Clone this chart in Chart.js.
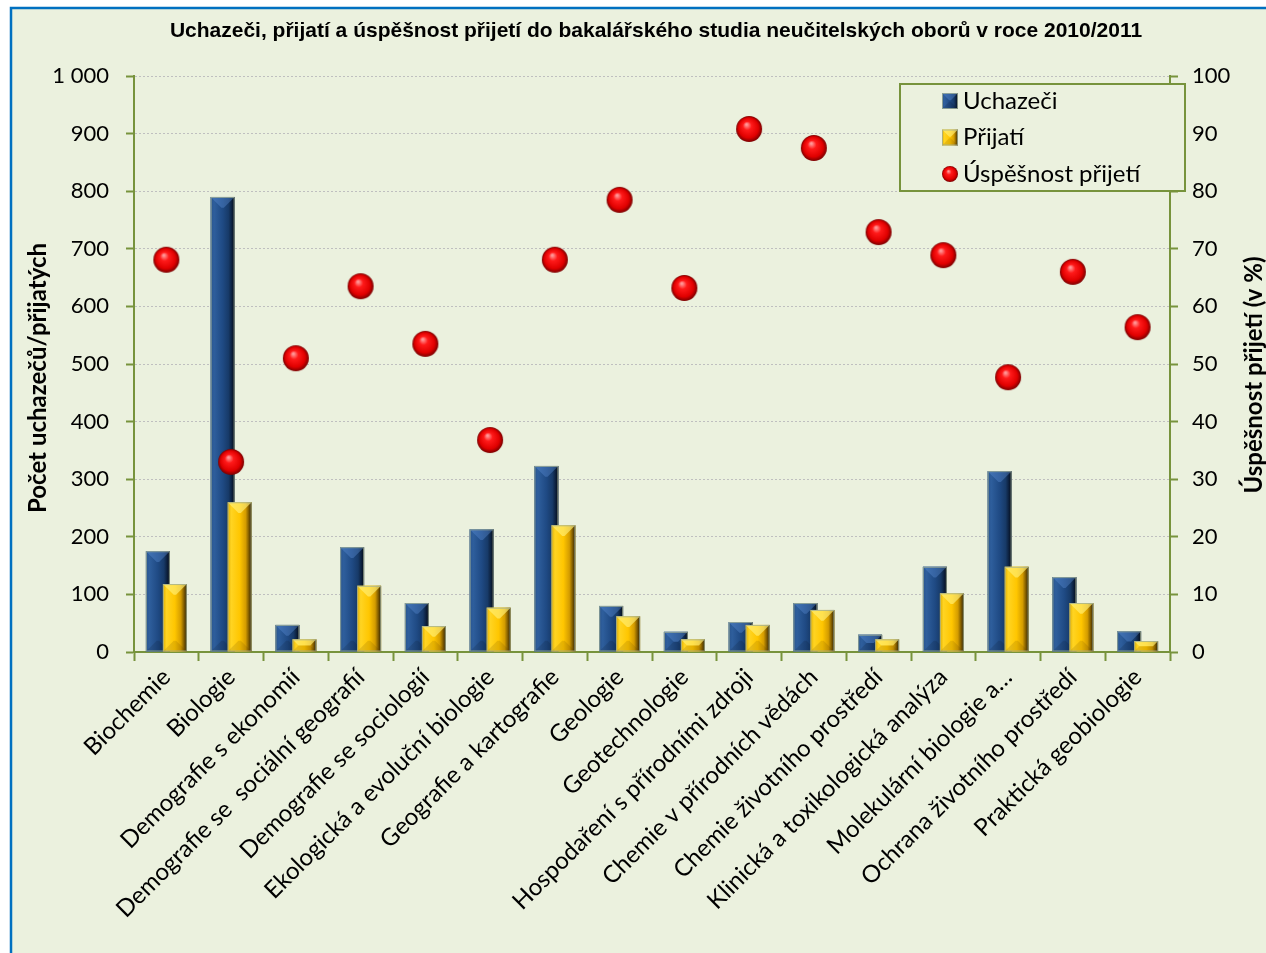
<!DOCTYPE html>
<html lang="cs">
<head>
<meta charset="utf-8">
<title>Uchazeči, přijatí a úspěšnost přijetí</title>
<script src="https://cdn.jsdelivr.net/npm/chart.js@4.4.1/dist/chart.umd.min.js"></script>
<style>
  html, body { margin: 0; padding: 0; background: #fff; overflow: hidden; }
  #wrap { position: relative; width: 1266px; height: 953px; }
</style>
</head>
<body>
<div id="wrap"><canvas id="chart"></canvas></div>
<script>
const categories = [
  'Biochemie', 'Biologie', 'Demografie s ekonomií', 'Demografie se  sociální geografií',
  'Demografie se sociologií', 'Ekologická a evoluční biologie', 'Geografie a kartografie',
  'Geologie', 'Geotechnologie', 'Hospodaření s přírodními zdroji', 'Chemie v přírodních vědách',
  'Chemie životního prostředí', 'Klinická a toxikologická analýza', 'Molekulární biologie a…',
  'Ochrana životního prostředí', 'Praktická geobiologie'
];
const applicants = [175, 790, 47, 182, 85, 213, 323, 80, 35, 52, 85, 30, 148, 314, 130, 36];
const admitted = [118, 260, 22, 115, 45, 77, 220, 62, 22, 47, 73, 22, 102, 148, 85, 19];
const successRate = [68.1, 33.0, 51.0, 63.5, 53.5, 36.8, 68.1, 78.5, 63.2, 90.8, 87.5, 72.9, 68.9, 47.7, 66.0, 56.4];
const leftTickLabels = ['0', '100', '200', '300', '400', '500', '600', '700', '800', '900', '1 000'];
const rightTickLabels = ['0', '10', '20', '30', '40', '50', '60', '70', '80', '90', '100'];

const title = 'Uchazeči, přijatí a úspěšnost přijetí do bakalářského studia neučitelských oborů v roce 2010/2011';
const leftTitle = 'Počet uchazečů/přijatých';
const rightTitle = 'Úspěšnost přijetí (v %)';

const green = '#77933c';
const bg = '#ebf1de';
const font = 'Lato';

const blueLook = {
  side: [[0, '#29558f'], [0.15, '#2e5e9c'], [0.5, '#1f4a84'], [0.75, '#173a68'], [0.9, '#0b1d38'], [1, '#030812']],
  top: 'rgba(90,140,210,0.4)',
  bottom: 'rgba(0,0,0,0.12)'
};
const goldLook = {
  side: [[0, '#e0ae00'], [0.15, '#ffd422'], [0.5, '#ffc600'], [0.75, '#d49c00'], [0.9, '#735200'], [1, '#261b00']],
  top: 'rgba(255,240,120,0.65)',
  bottom: 'rgba(90,60,0,0.15)'
};

function makeSphere(r) {
  const c = document.createElement('canvas');
  c.width = c.height = r * 2 + 2;
  const g = c.getContext('2d');
  const cx = r + 1, cy = r + 1;
  const grad = g.createRadialGradient(cx - r * 0.2, cy - r * 0.35, r * 0.05, cx, cy, r);
  grad.addColorStop(0, '#ff9a9a');
  grad.addColorStop(0.3, '#ff1a1a');
  grad.addColorStop(0.75, '#e00000');
  grad.addColorStop(1, '#7a0000');
  g.fillStyle = grad;
  g.beginPath();
  g.arc(cx, cy, r, 0, Math.PI * 2);
  g.fill();
  return c;
}
const sphere = makeSphere(13);
const smallSphere = makeSphere(8);

function paintBar(ctx, l, t, r, b, look) {
  const w = r - l, h = b - t;
  if (h <= 0) return;
  const d = Math.min(w * 0.45, h / 2);
  const grad = ctx.createLinearGradient(l, 0, r, 0);
  look.side.forEach(([p, c]) => grad.addColorStop(p, c));
  ctx.fillStyle = grad;
  ctx.fillRect(l, t, w, h);
  ctx.fillStyle = look.top;
  ctx.beginPath();
  ctx.moveTo(l, t); ctx.lineTo(r, t); ctx.lineTo(r - d, t + d); ctx.lineTo(l + d, t + d);
  ctx.closePath(); ctx.fill();
  ctx.fillStyle = look.bottom;
  ctx.beginPath();
  ctx.moveTo(l, b); ctx.lineTo(r, b); ctx.lineTo(r - d, b - d); ctx.lineTo(l + d, b - d);
  ctx.closePath(); ctx.fill();
  ctx.strokeStyle = 'rgba(160,175,150,0.8)';
  ctx.lineWidth = 1;
  ctx.strokeRect(l + 0.5, t + 0.5, w - 1, h - 1);
}

const decor = {
  id: 'decor',
  beforeDraw(chart) {
    const { ctx, width, height } = chart;
    ctx.save();
    ctx.fillStyle = '#fff';
    ctx.fillRect(0, 0, width, height);
    ctx.fillStyle = bg;
    ctx.fillRect(11, 8, width - 11, height - 8);
    ctx.strokeStyle = '#0070c0';
    ctx.lineWidth = 2.5;
    ctx.beginPath();
    ctx.moveTo(11, height); ctx.lineTo(11, 8); ctx.lineTo(width, 8);
    ctx.stroke();
    ctx.restore();
  },
  beforeDatasetDraw(chart, args) {
    // repaint bars with bevel, gold over blue, before the points
    if (args.meta.type !== 'line') return;
    const ctx = chart.ctx;
    ctx.save();
    [[0, blueLook], [1, goldLook]].forEach(([i, look]) => {
      chart.getDatasetMeta(i).data.forEach(bar => {
        const { x, y, base, width } = bar.getProps(['x', 'y', 'base', 'width'], true);
        paintBar(ctx, x - width / 2, Math.min(y, base), x + width / 2, Math.max(y, base), look);
      });
    });
    ctx.restore();
  },
  afterDraw(chart) {
    const { ctx, chartArea } = chart;
    ctx.save();
    ctx.fillStyle = '#000';
    ctx.textAlign = 'center';
    ctx.textBaseline = 'middle';
    ctx.font = 'bold 21px "Liberation Sans", Arial, sans-serif';
    ctx.fillText(title, 656, 31);

    ctx.font = `bold 24px ${font}`;
    ctx.save();
    ctx.translate(38, 378);
    ctx.rotate(-Math.PI / 2);
    ctx.fillText(leftTitle, 0, 0);
    ctx.restore();
    ctx.save();
    ctx.translate(1254, 375);
    ctx.rotate(-Math.PI / 2);
    ctx.fillText(rightTitle, 0, 0);
    ctx.restore();

    // legend box
    const lx = chartArea.right - 270, ly = chartArea.top + 8, lw = 285, lh = 107;
    ctx.fillStyle = bg;
    ctx.fillRect(lx, ly, lw, lh);
    ctx.strokeStyle = green;
    ctx.lineWidth = 2;
    ctx.strokeRect(lx, ly, lw, lh);
    ctx.font = `24px ${font}`;
    ctx.textAlign = 'left';
    const ix = lx + 42;
    chart.data.datasets.forEach((ds, i) => {
      const cy = ly + 17 + i * 36.5;
      if (ds.type === 'line') {
        ctx.drawImage(smallSphere, ix + 8 - smallSphere.width / 2, cy - smallSphere.height / 2);
      } else {
        paintBar(ctx, ix, cy - 8, ix + 16, cy + 8, i === 0 ? blueLook : goldLook);
      }
      ctx.fillStyle = '#000';
      ctx.fillText(ds.label, ix + 21, cy);
    });
    ctx.restore();
  }
};

new Chart(document.getElementById('chart'), {
  data: {
    labels: categories,
    datasets: [
      { type: 'bar', label: 'Uchazeči', data: applicants, backgroundColor: '#1f4a84', yAxisID: 'y', order: 0,
        categoryPercentage: 0.525, barPercentage: 1.41 },
      { type: 'bar', label: 'Přijatí', data: admitted, backgroundColor: '#ffc600', yAxisID: 'y', order: 0,
        categoryPercentage: 0.525, barPercentage: 1.41 },
      { type: 'line', label: 'Úspěšnost přijetí', data: successRate, yAxisID: 'y1', order: -1,
        showLine: false, pointStyle: sphere, pointRadius: 13, pointHoverRadius: 13,
        backgroundColor: '#ff0000', borderColor: '#ff0000' }
    ]
  },
  options: {
    responsive: true,
    maintainAspectRatio: false,
    animation: false,
    events: [],
    layout: { padding: { top: 76, left: 0, right: 0, bottom: 0 } },
    plugins: { legend: { display: false }, tooltip: { enabled: false }, title: { display: false } },
    scales: {
      x: {
        offset: true,
        grid: { offset: true, drawOnChartArea: false, drawTicks: true, tickLength: 9, tickColor: green, tickWidth: 2 },
        border: { color: green, width: 2 },
        ticks: { autoSkip: false, maxRotation: 45, minRotation: 45, padding: 2, color: '#000', font: { family: font, size: 24 } },
        afterFit: s => { s.height = 301; }
      },
      y: {
        position: 'left', min: 0, max: 1000,
        grid: { color: '#bfbfbf', lineWidth: 1, tickColor: green, tickLength: 8, tickWidth: 2 },
        border: { color: green, width: 2, dash: [2, 2] },
        ticks: { stepSize: 100, padding: 17, color: '#000', font: { family: font, size: 22 },
          callback: (v, i) => leftTickLabels[i] },
        afterFit: s => { s.width = 134; }
      },
      y1: {
        position: 'right', min: 0, max: 100,
        grid: { drawOnChartArea: false, tickColor: green, tickLength: 8, tickWidth: 2 },
        border: { color: green, width: 2 },
        ticks: { stepSize: 10, padding: 14, color: '#000', font: { family: font, size: 22 },
          callback: (v, i) => rightTickLabels[i] },
        afterFit: s => { s.width = 96; }
      }
    }
  },
  plugins: [decor]
});
</script>
</body>
</html>
